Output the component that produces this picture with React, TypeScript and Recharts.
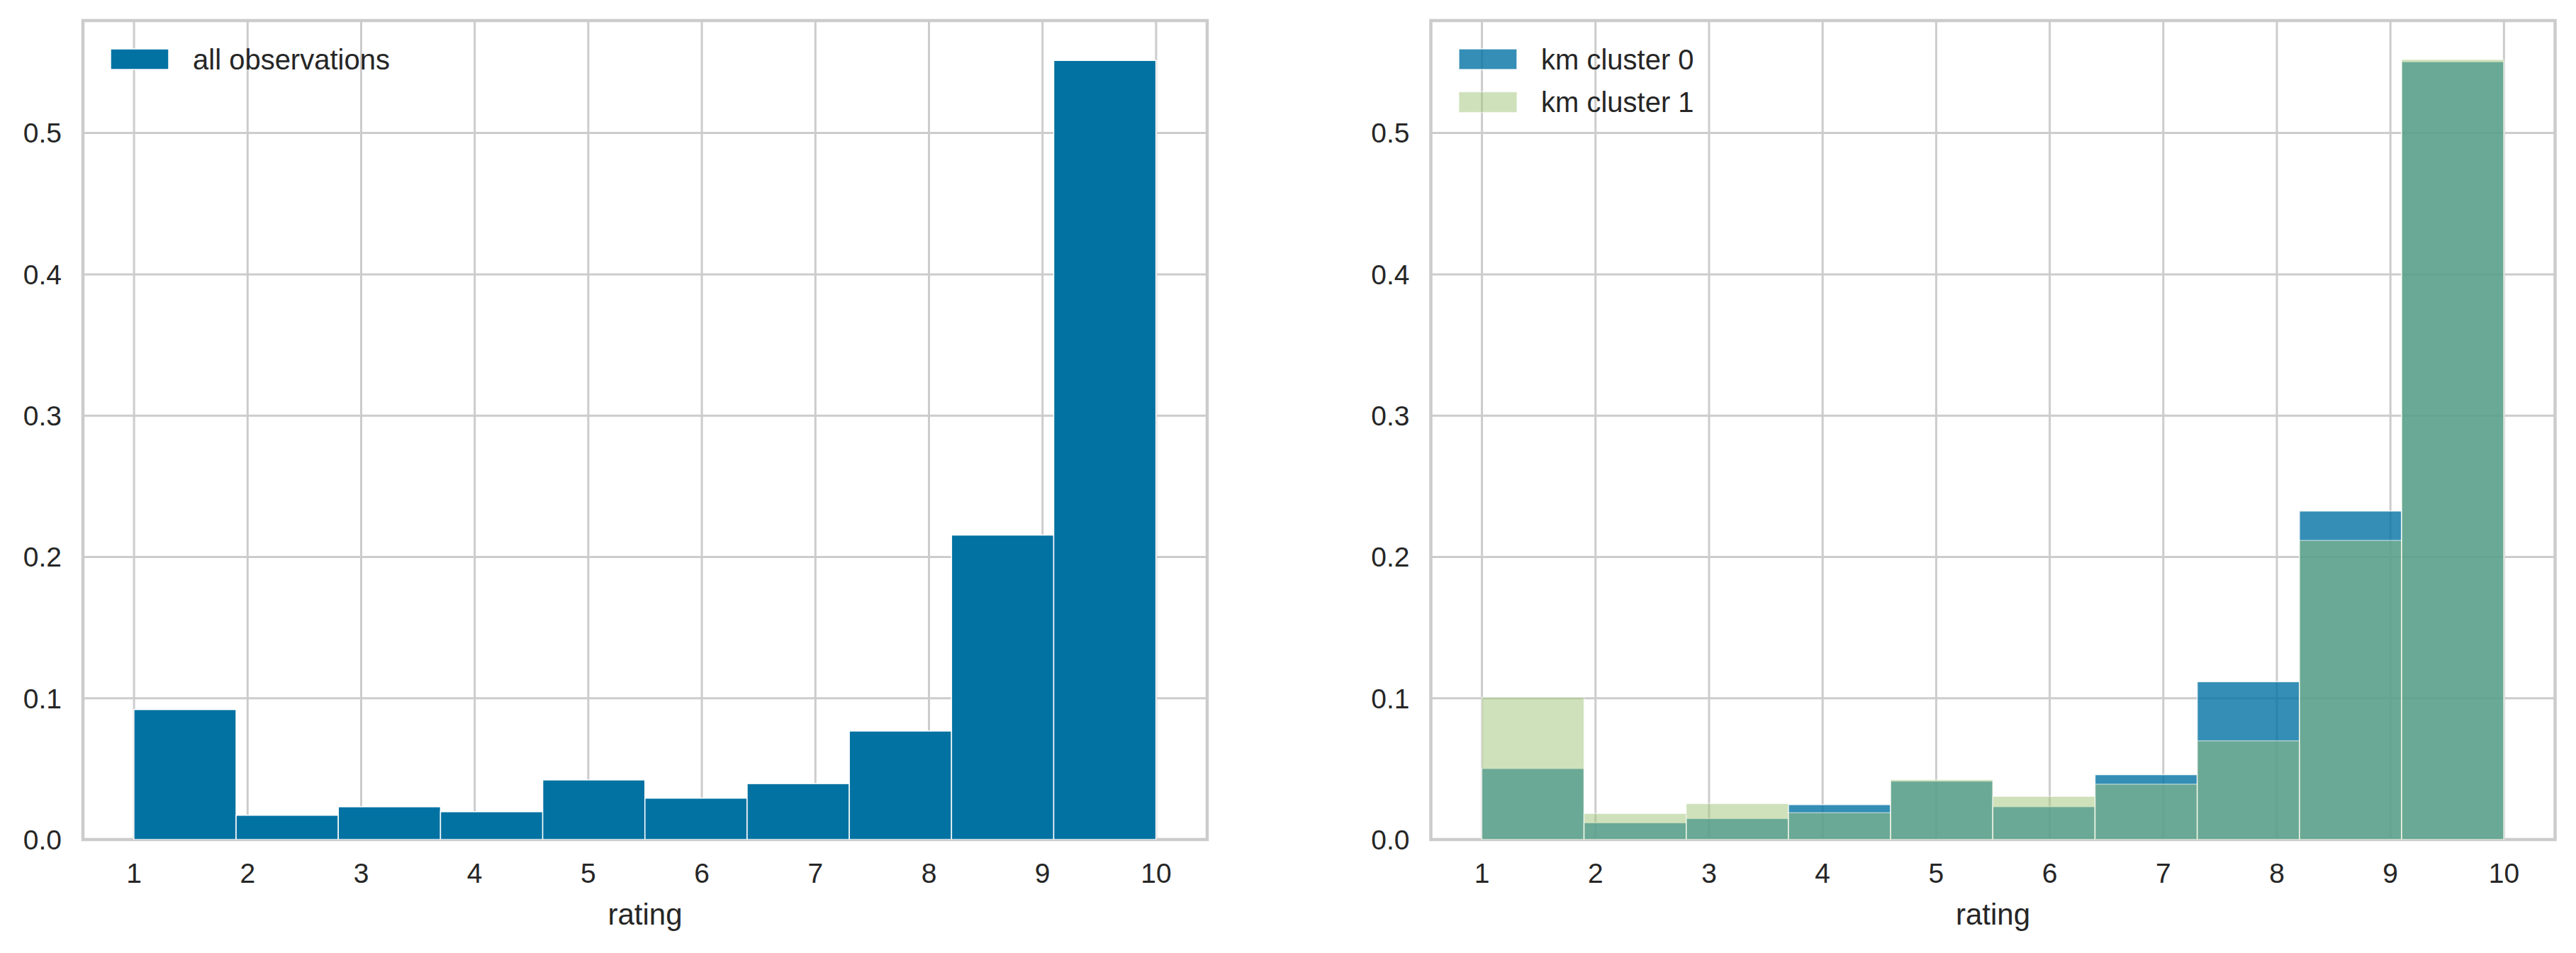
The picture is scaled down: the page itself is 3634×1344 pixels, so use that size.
import React from "react";
import {
  ComposedChart,
  Bar,
  XAxis,
  YAxis,
  CartesianGrid,
  ReferenceArea,
  Legend,
} from "recharts";

// ---- data ----
const binCenters = [1.45, 2.35, 3.25, 4.15, 5.05, 5.95, 6.85, 7.75, 8.65, 9.55];
const allObservations = [0.092, 0.0172, 0.0232, 0.0197, 0.0422, 0.0293, 0.0396, 0.0768, 0.2155, 0.5514];
const kmCluster0 = [0.0503, 0.0119, 0.0149, 0.0247, 0.0414, 0.0233, 0.0459, 0.1117, 0.2325, 0.5505];
const kmCluster1 = [0.1007, 0.0184, 0.0254, 0.019, 0.0423, 0.0305, 0.0392, 0.0699, 0.2117, 0.552];
const xTicks = [1, 2, 3, 4, 5, 6, 7, 8, 9, 10];
const yTicks = [0, 0.1, 0.2, 0.3, 0.4, 0.5];
const xDomain = [0.55, 10.45];
const yDomain = [0, 0.5796];
const binWidth = 0.9;
const xLabel = "rating";

const leftData = binCenters.map((c, i) => ({ c, all: allObservations[i] }));
const rightData = binCenters.map((c, i) => ({ c, k0: kmCluster0[i], k1: kmCluster1[i] }));

const FONT = '"Liberation Sans", Arial, Helvetica, sans-serif';
const TEXT = "#262626";
const GRID = "#cccccc";
const BLUE = "#0272a2";
const GREEN = "#9fc377";

type Series = { key: string; name: string; color: string; alpha: number; axis: string | number };

function LegendBox({ items }: { items: Series[] }) {
  return (
    <svg width={600} height={40 + items.length * 61} style={{ overflow: "visible" }}>
      {items.map((s, i) => (
        <g key={s.key}>
          <rect
            x={1}
            y={1 + i * 60.6}
            width={82}
            height={29}
            fill={s.color}
            fillOpacity={s.alpha}
            stroke="#ffffff"
            strokeOpacity={s.alpha}
            strokeWidth={1.5}
          />
          <text x={117} y={29.5 + i * 60.6} fontFamily={FONT} fontSize={40} fill={TEXT}>
            {s.name}
          </text>
        </g>
      ))}
    </svg>
  );
}

function makeBinShape(barPx: number, color: string, alpha: number) {
  return (props: any) => {
    const { x, y, width, height } = props;
    if (height == null || !isFinite(height) || height <= 0) return <g />;
    const cx = x + width / 2;
    return (
      <rect
        x={cx - barPx / 2}
        y={y}
        width={barPx}
        height={height}
        fill={color}
        fillOpacity={alpha}
        stroke="#ffffff"
        strokeOpacity={alpha}
        strokeWidth={1.5}
      />
    );
  };
}

function Panel({
  left,
  width,
  yAxisWidth,
  marginRight,
  data,
  series,
  legendLeft,
}: {
  left: number;
  width: number;
  yAxisWidth: number;
  marginRight: number;
  data: any[];
  series: Series[];
  legendLeft: number;
}) {
  const plotW = width - yAxisWidth - marginRight;
  const barPx = (binWidth * plotW) / (xDomain[1] - xDomain[0]);
  const axisIds = Array.from(new Set(series.map((s) => s.axis)));
  return (
    <div style={{ position: "absolute", left, top: 0 }}>
      <ComposedChart
        width={width}
        height={1344}
        data={data}
        margin={{ top: 29, right: marginRight, bottom: 100, left: 0 }}
        barGap={0}
        barCategoryGap={0}
      >
        <CartesianGrid stroke={GRID} strokeWidth={3} />
        {axisIds.map((id, i) => (
          <XAxis
            key={String(id)}
            xAxisId={id}
            dataKey="c"
            type="number"
            domain={xDomain}
            ticks={xTicks}
            allowDataOverflow
            hide={i > 0}
            height={60}
            tickSize={0}
            tickMargin={33}
            axisLine={false}
            tickLine={false}
            tick={{ fill: TEXT, fontSize: 39, fontFamily: FONT }}
            interval={0}
            label={
              i === 0
                ? { value: xLabel, position: "bottom", offset: 30, fill: TEXT, fontSize: 42, fontFamily: FONT }
                : undefined
            }
          />
        ))}
        <YAxis
          type="number"
          domain={yDomain}
          ticks={yTicks}
          allowDataOverflow
          width={yAxisWidth}
          tickSize={0}
          tickMargin={30}
          axisLine={false}
          tickLine={false}
          tick={{ fill: TEXT, fontSize: 39, fontFamily: FONT }}
          tickFormatter={(v: number) => v.toFixed(1)}
          interval={0}
        />
        {series.map((s) => (
          <Bar
            key={s.key}
            dataKey={s.key}
            name={s.name}
            xAxisId={s.axis}
            fill={s.color}
            fillOpacity={s.alpha}
            barSize={barPx}
            shape={makeBinShape(barPx, s.color, s.alpha)}
            isAnimationActive={false}
          />
        ))}
        <ReferenceArea
          xAxisId={axisIds[0]}
          x1={xDomain[0]}
          x2={xDomain[1]}
          y1={yDomain[0]}
          y2={yDomain[1]}
          fill="none"
          fillOpacity={0}
          stroke={GRID}
          strokeWidth={4.5}
          ifOverflow="visible"
        />
        <Legend
          layout="vertical"
          align="center"
          verticalAlign="middle"
          wrapperStyle={{ left: legendLeft, top: 68, width: 600 }}
          content={() => <LegendBox items={series} />}
        />
      </ComposedChart>
    </div>
  );
}

export default function App() {
  return (
    <div
      style={{
        position: "absolute",
        left: 0,
        top: 0,
        width: 3634,
        height: 1344,
        background: "#ffffff",
        fontFamily: FONT,
      }}
    >
      <Panel
        left={0}
        width={1800}
        yAxisWidth={117}
        marginRight={97}
        data={leftData}
        series={[{ key: "all", name: "all observations", color: BLUE, alpha: 1, axis: 0 }]}
        legendLeft={155}
      />
      <Panel
        left={1900}
        width={1734}
        yAxisWidth={118.5}
        marginRight={29.5}
        data={rightData}
        series={[
          { key: "k0", name: "km cluster 0", color: BLUE, alpha: 0.8, axis: 0 },
          { key: "k1", name: "km cluster 1", color: GREEN, alpha: 0.5, axis: "b" },
        ]}
        legendLeft={157}
      />
    </div>
  );
}
